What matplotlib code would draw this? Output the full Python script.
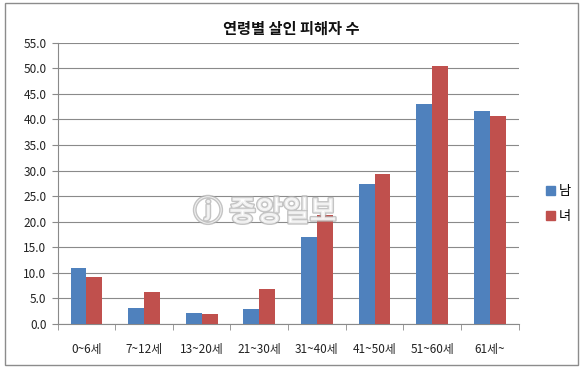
import numpy as np
import matplotlib.pyplot as plt
import matplotlib.patheffects as pe
from matplotlib.patches import Rectangle, Patch

plt.rcParams['font.family'] = ['Noto Sans CJK KR', 'DejaVu Sans']

# 연령대별 값
categories = ['0~6세', '7~12세', '13~20세', '21~30세', '31~40세', '41~50세', '51~60세', '61세~']
male = [11.0, 3.2, 2.2, 3.0, 17.1, 27.4, 43.0, 41.7]
female = [9.2, 6.3, 2.0, 6.9, 21.3, 29.3, 50.5, 40.6]
yticks = [0, 5, 10, 15, 20, 25, 30, 35, 40, 45, 50, 55]

blue = '#4F81BD'
red = '#C0504D'
grid_c = '#8a8a8a'

fig = plt.figure(figsize=(5.83, 3.69), dpi=100)
ax = fig.add_axes([0.0988, 0.122, 0.7907, 0.7623])

x = np.arange(len(categories))
w = 0.275
ax.bar(x - w / 2, male, w, color=blue, zorder=3)
ax.bar(x + w / 2, female, w, color=red, zorder=3)

ax.set_xlim(-0.5, len(categories) - 0.5)
ax.set_ylim(0, 55)
ax.set_yticks(yticks)
ax.set_yticklabels([f'{v:.1f}' for v in yticks], fontsize=8.5, color='#222222')
ax.yaxis.grid(True, color=grid_c, linewidth=0.8, zorder=0)

ax.set_xticks(x)
ax.set_xticklabels(categories, fontsize=8.5, color='#222222')
ax.set_xticks(np.arange(-0.5, len(categories)), minor=True)
ax.tick_params(axis='x', which='major', length=0, pad=14)
ax.tick_params(axis='x', which='minor', length=4, color=grid_c, direction='out')
ax.tick_params(axis='y', length=4, color=grid_c, pad=4)

for s in ['top', 'right']:
    ax.spines[s].set_visible(False)
for s in ['left', 'bottom']:
    ax.spines[s].set_color(grid_c)
    ax.spines[s].set_linewidth(0.8)

fig.text(291 / 583, 1 - 29 / 369, '연령별 살인 피해자 수', ha='center', va='center',
         fontsize=11, fontweight='bold', color='#111111')

handles = [Patch(color=blue), Patch(color=red)]
fig.legend(handles, ['남', '녀'], loc='center left',
           bbox_to_anchor=(534 / 583, 1 - 204 / 369), frameon=False,
           fontsize=9.5, handlelength=0.7, handleheight=0.7,
           handletextpad=0.3, labelspacing=0.9)

# 워터마크
fig.text(265 / 583, 1 - 212 / 369, 'ⓙ 중앙일보', ha='center', va='center',
         fontsize=21, fontweight='bold', color='white', alpha=0.75,
         path_effects=[pe.withStroke(linewidth=2, foreground='#b0b0b0')])

# 바깥 테두리
fig.patches.append(Rectangle((5 / 583, 1 - 365 / 369), 573 / 583, 362 / 369,
                             transform=fig.transFigure, fill=False,
                             edgecolor='#8c8c8c', linewidth=1))

fig.savefig('out.png', dpi=100)
